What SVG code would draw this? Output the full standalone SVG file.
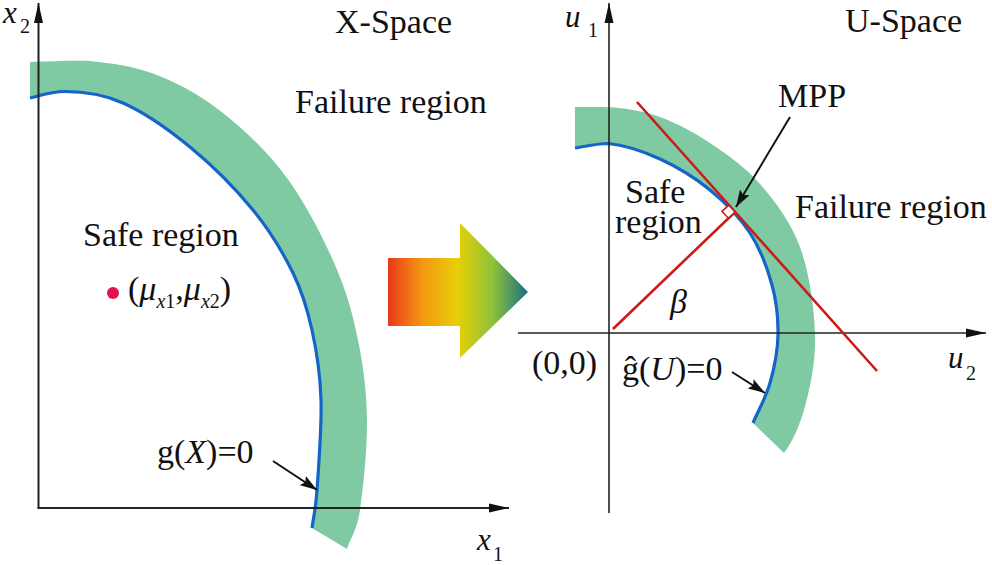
<svg xmlns="http://www.w3.org/2000/svg" width="992" height="565" viewBox="0 0 992 565">
<style>
text{font-family:"Liberation Serif","Times New Roman",serif;font-size:34px;fill:#111}
.it{font-style:italic}
.sub{font-size:20px}
.band{fill:#7fc9a3;stroke:none}
.lsf{fill:none;stroke:#1565c8;stroke-width:3.2}
.axis{stroke:#222;stroke-width:2;fill:none}
.red{stroke:#cc1a1a;stroke-width:2.6;fill:none}
.ptr{stroke:#111;stroke-width:2;fill:none}
</style>
<defs>
<marker id="axhead" markerUnits="userSpaceOnUse" markerWidth="22" markerHeight="10" refX="20" refY="5" orient="auto">
<path d="M0,0.5 L20,5 L0,9.5 Z" fill="#111"/>
</marker>
<marker id="ptrhead" markerUnits="userSpaceOnUse" markerWidth="18" markerHeight="12" refX="17" refY="6" orient="auto">
<path d="M0,0.5 L17,6 L0,11.5 L3,6 Z" fill="#111"/>
</marker>
<linearGradient id="grad" gradientUnits="userSpaceOnUse" x1="388" y1="0" x2="528" y2="0">
<stop offset="0" stop-color="#e8381c"/>
<stop offset="0.25" stop-color="#f49a12"/>
<stop offset="0.5" stop-color="#e6cf06"/>
<stop offset="0.75" stop-color="#8cc23a"/>
<stop offset="1" stop-color="#1a6e86"/>
</linearGradient>
</defs>

<g id="x-space">
<g id="x-band">
<path class="band" d="M30,62 C50,61.5 72,60.5 90,61 C111.2,63.2 134.8,66.3 157,75 C179.2,83.7 201.3,95.8 223,113 C244.7,130.2 268.3,152.7 287,178 C305.7,203.3 323.2,238 335,265 C346.8,292 352.7,314.2 358,340 C363.3,365.8 366.7,391.7 367,420 C367.3,448.3 363.3,488.5 360,510 C356.7,531.5 351.3,536 347,549 L312,528 C313.7,515.3 315.5,511.3 317,490 C318.5,468.7 321.8,426.7 321,400 C320.2,373.3 316.7,351.2 312,330 C307.3,308.8 302.8,293 293,273 C283.2,253 270.2,231 253,210 C235.8,189 211.7,164.8 190,147 C168.3,129.2 143.8,112.25 123,103 C102.2,93.75 80,91.5 65,91.5 C50,91.5 35.8,96.9 30,98 Z"/>
</g>
<g id="g-x-curve">
<path class="lsf" d="M30,98 C35.8,96.9 50,91.5 65,91.5 C80,91.5 102.2,93.75 123,103 C143.8,112.25 168.3,129.2 190,147 C211.7,164.8 235.8,189 253,210 C270.2,231 283.2,253 293,273 C302.8,293 307.3,308.8 312,330 C316.7,351.2 320.2,373.3 321,400 C321.8,426.7 318.5,468.7 317,490 C315.5,511.3 313.7,515.3 312,528"/>
</g>
<g id="mean-point">
<circle cx="113" cy="293" r="6" fill="#e3124d"/>
</g>
</g>

<g id="u-space">
<g id="u-band">
<path class="band" d="M575,107 C582,107 601,106.8 615,107.5 C629.2,109.2 644.2,111.1 660,117 C675.8,122.9 693.3,131.8 710,143 C726.7,154.2 745,166.7 760,184 C775,201.3 790.8,222.2 800,247 C809.2,271.8 814,306.7 815,333 C816,359.3 811,385 804,410 C798,430 792,442 784,453 L753,423 C758.7,409.7 765.8,397.7 770,383 C774.2,368.3 777.7,351.3 778,335 C778.3,318.7 776.7,302 772,285 C767.3,268 760.3,248.8 750,233 C739.7,217.2 725,202.3 710,190 C695,177.7 677,166.75 660,159 C643,151.25 624,145 608,143.5 C597,143.5 580.5,147.2 575,148 Z"/>
</g>
<g id="g-u-curve">
<path class="lsf" d="M575,148 C580.5,147.2 597,143.5 608,143.5 C624,145 643,151.25 660,159 C677,166.75 695,177.7 710,190 C725,202.3 739.7,217.2 750,233 C760.3,248.8 767.3,268 772,285 C776.7,302 778.3,318.7 778,335 C777.7,351.3 774.2,368.3 770,383 C765.8,397.7 758.7,409.7 753,423"/>
</g>
</g>

<g id="connectors">
<line class="axis" x1="38.5" y1="508" x2="38.5" y2="3" marker-end="url(#axhead)"/>
<line class="axis" x1="37.5" y1="508" x2="509" y2="508" marker-end="url(#axhead)"/>
<line class="axis" x1="609" y1="513" x2="609" y2="3" marker-end="url(#axhead)" style="stroke-width:1.6"/>
<line class="axis" x1="518" y1="333" x2="986" y2="333" marker-end="url(#axhead)" style="stroke-width:1.6"/>
<line class="red" x1="637" y1="102" x2="877" y2="371"/>
<line class="red" x1="613" y1="329" x2="735" y2="212"/>
<polygon points="735,212 728.8,205.2 722,211.4 728.4,218.2" fill="#fff" stroke="#cc1a1a" stroke-width="1.6"/>
<line class="ptr" x1="273" y1="461" x2="317" y2="490" marker-end="url(#ptrhead)"/>
<line class="ptr" x1="790" y1="117" x2="736" y2="207" marker-end="url(#ptrhead)"/>
<line class="ptr" x1="732" y1="372" x2="765" y2="393" marker-end="url(#ptrhead)"/>
</g>

<g id="transform-arrow">
<polygon points="388,258 460,258 460,223 528,292 460,358 460,326 388,326" fill="url(#grad)"/>
</g>

<g id="labels">
<text x="3" y="23" class="it" style="font-size:31px">x</text>
<text x="20" y="33" class="sub">2</text>
<text x="335" y="33">X-Space</text>
<text x="295" y="113">Failure region</text>
<text x="83" y="246">Safe region</text>
<text x="128" y="300">(<tspan class="it">μ</tspan><tspan class="sub it" dy="8">x</tspan><tspan class="sub">1</tspan><tspan dy="-8">,</tspan><tspan class="it">μ</tspan><tspan class="sub it" dy="8">x</tspan><tspan class="sub">2</tspan><tspan dy="-8">)</tspan></text>
<text x="157" y="463">g(<tspan class="it">X</tspan>)=0</text>
<text x="477" y="550" class="it" style="font-size:31px">x</text>
<text x="493" y="561" class="sub">1</text>

<text x="565" y="27" class="it" style="font-size:31px">u</text>
<text x="588" y="37" class="sub">1</text>
<text x="845" y="32">U-Space</text>
<text x="778" y="107">MPP</text>
<text x="625" y="203">Safe</text>
<text x="615" y="233">region</text>
<text x="795" y="218">Failure region</text>
<text x="670" y="313" class="it">β</text>
<text x="532" y="374">(0,0)</text>
<text x="622" y="380">ĝ(<tspan class="it">U</tspan>)=0</text>
<text x="948" y="368" class="it" style="font-size:31px">u</text>
<text x="966" y="380" class="sub">2</text>
</g>
</svg>
